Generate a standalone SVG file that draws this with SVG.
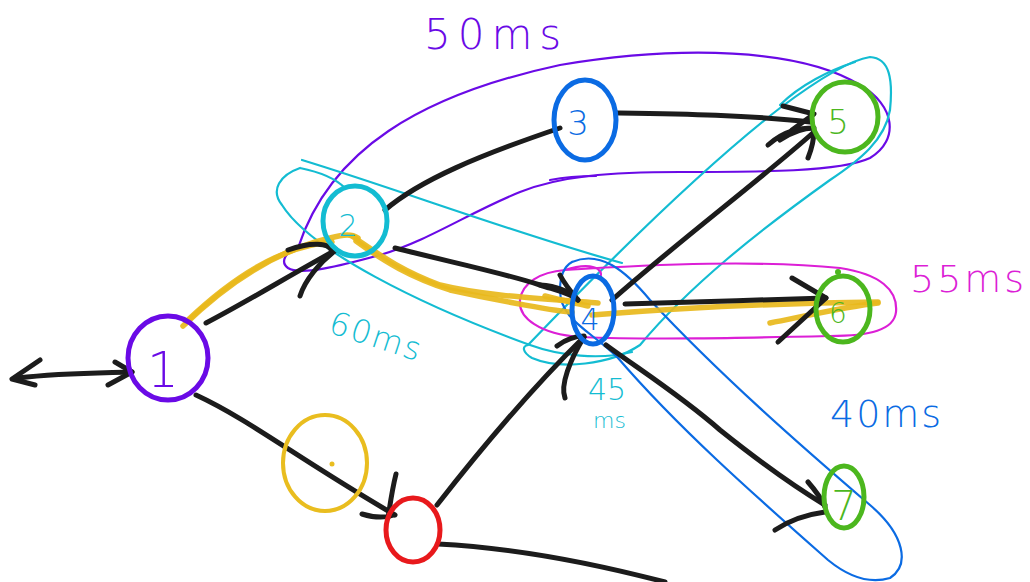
<svg xmlns="http://www.w3.org/2000/svg" width="1030" height="582" viewBox="0 0 1030 582">
  <style>
    .ink{fill:none;stroke:#1c1c1c;stroke-width:5;stroke-linecap:round;stroke-linejoin:round}
    .node{fill:none;stroke-width:5}
    .lasso{fill:none;stroke-width:2.2;stroke-linecap:round;stroke-linejoin:round}
    .hl{fill:none;stroke:#e8b81c;stroke-width:5.5;stroke-linecap:round;stroke-linejoin:round;opacity:.92}
    .lbl{font-family:"DejaVu Sans","Open Sans",sans-serif;font-weight:200}
    .purple{stroke:#6a0ae6}
    .cyan{stroke:#13bcd2}
    .blue{stroke:#0b6be3}
    .green{stroke:#4cb71e}
    .magenta{stroke:#dc1fd6}
  </style>
  <rect width="1030" height="582" fill="#ffffff"/>

  <!-- group outlines -->
  <g id="groups">
    <path class="lasso purple" d="M298,248 C330,150 420,95 560,65 C680,45 800,48 860,85 C895,105 900,140 870,158 C840,172 760,172 680,172 C610,172 560,176 520,192 C470,212 430,240 380,255 C340,266 300,276 288,268 C280,262 285,252 298,248"/>
    <path class="lasso purple" d="M550,180 C570,176 585,176 596,176"/>
    <path class="lasso cyan" d="M302,160 C400,190 520,235 622,263 M300,168 C280,175 270,190 282,205 C310,250 420,305 530,345 C560,356 600,360 632,352 M300,168 C320,172 335,178 345,188"/>
    <path class="lasso cyan" d="M528,345 C600,270 700,170 780,108 C820,78 850,60 870,57 C890,58 893,80 890,110 C885,140 860,160 830,180 C760,230 690,285 640,345 C610,365 560,370 532,358 C522,352 522,346 528,345"/>
    <path class="lasso cyan" d="M780,105 C800,85 830,70 855,62"/>
    <path class="lasso magenta" d="M565,270 C660,264 760,260 840,268 C880,274 898,290 896,312 C894,330 870,336 830,336 C740,338 650,340 580,337 C540,334 518,318 520,300 C522,283 540,272 565,270 M565,270 C590,262 605,268 600,278"/>
    <path class="lasso blue" d="M572,262 C600,250 625,270 650,300 C720,375 800,445 870,505 C905,535 910,565 890,578 C870,584 850,578 828,560 C760,500 680,430 618,358 C590,330 560,320 560,290 C560,275 565,266 572,262"/>
  </g>

  <!-- yellow trace -->
  <g id="trace">
    <path class="hl" d="M183,326 C220,290 270,252 330,238 C345,234 352,234 358,238"/>
    <path class="hl" d="M188,320 C228,282 278,246 332,242"/>
    <path class="hl" d="M352,236 C380,255 400,270 440,285 C480,295 530,298 598,303"/>
    <path class="hl" d="M356,241 C385,262 410,277 450,290 C500,301 560,312 572,312"/>
    <path class="hl" d="M592,315 C680,308 780,303 878,302"/>
    <path class="hl" d="M770,323 C810,315 850,306 878,303"/>
    <path class="hl" d="M545,296 C560,300 575,303 588,306"/>
  </g>

  <!-- connectors -->
  <g id="connectors">
    <path class="ink" d="M18,378 C60,373 100,373 132,372"/>
    <path class="ink" d="M40,360 L12,379 L35,385"/>
    <path class="ink" d="M115,362 L132,372 L108,385"/>

    <path class="ink" d="M206,323 C250,300 290,275 336,250"/>
    <path class="ink" d="M288,250 C310,242 330,242 332,252 M300,296 C305,280 320,262 336,250"/>

    <path class="ink" d="M385,210 C420,180 480,155 560,128"/>

    <path class="ink" d="M395,248 C450,262 500,272 540,285 C555,290 570,293 578,300"/>
    <path class="ink" d="M540,285 C555,286 568,290 578,300 M560,275 C565,285 572,293 578,300"/>

    <path class="ink" d="M616,113 C680,114 750,115 810,122"/>
    <path class="ink" d="M783,106 L814,114 L792,130"/>

    <path class="ink" d="M612,300 C680,240 760,180 814,132"/>
    <path class="ink" d="M768,145 C785,130 800,128 814,128 M808,158 C812,148 814,138 814,130 M780,140 C792,132 805,128 814,128"/>

    <path class="ink" d="M625,304 C690,302 760,300 826,298"/>
    <path class="ink" d="M792,278 L826,298 L778,342"/>

    <path class="ink" d="M606,345 C640,370 680,395 720,430 C770,470 800,490 825,505"/>
    <path class="ink" d="M808,482 C815,490 822,500 825,507 M775,530 C790,520 810,514 825,512"/>

    <path class="ink" d="M196,395 C250,420 300,460 395,515"/>
    <path class="ink" d="M396,474 C392,490 390,505 388,518 M362,514 C375,518 385,518 394,515"/>

    <path class="ink" d="M437,505 C480,450 530,390 584,337"/>
    <path class="ink" d="M557,346 C565,340 575,336 584,336 M565,398 C560,385 570,360 584,337"/>

    <path class="ink" d="M438,544 C520,548 600,565 665,582"/>
  </g>

  <!-- nodes -->
  <g id="node-1">
    <ellipse class="node purple" cx="168" cy="358" rx="40" ry="42"/>
    <text class="lbl" x="163" y="387" font-size="50" fill="#6a0ae6" text-anchor="middle">1</text>
  </g>
  <g id="node-2">
    <ellipse class="node cyan" cx="355" cy="221" rx="32" ry="35"/>
    <text class="lbl" x="348" y="236" font-size="30" fill="#13bcd2" text-anchor="middle">2</text>
  </g>
  <g id="node-3">
    <ellipse class="node blue" cx="585" cy="120" rx="31" ry="40"/>
    <text class="lbl" x="578" y="135" font-size="34" fill="#0b6be3" text-anchor="middle">3</text>
  </g>
  <g id="node-4">
    <ellipse class="node blue" cx="593" cy="310" rx="21" ry="34"/>
    <text class="lbl" x="590" y="330" font-size="30" fill="#0b6be3" text-anchor="middle">4</text>
  </g>
  <g id="node-5">
    <ellipse class="node green" cx="845" cy="117" rx="33" ry="35"/>
    <text class="lbl" x="838" y="134" font-size="34" fill="#4cb71e" text-anchor="middle">5</text>
  </g>
  <g id="node-6">
    <ellipse class="node green" cx="843" cy="309" rx="27" ry="33"/>
    <circle cx="838" cy="272" r="3" fill="#4cb71e"/>
    <text class="lbl" x="838" y="323" font-size="28" fill="#4cb71e" text-anchor="middle">6</text>
  </g>
  <g id="node-7">
    <ellipse class="node green" cx="844" cy="497" rx="20" ry="31"/>
    <text class="lbl" x="844" y="520" font-size="40" fill="#4cb71e" text-anchor="middle">7</text>
  </g>
  <g id="node-red">
    <ellipse class="node" stroke="#e8191c" cx="413" cy="530" rx="27" ry="32"/>
  </g>
  <g id="mark-yellow">
    <ellipse cx="325" cy="463" rx="42" ry="48" fill="none" stroke="#e9bd1f" stroke-width="4"/>
    <circle cx="332" cy="464" r="2.5" fill="#e9bd1f"/>
  </g>

  <!-- latency labels -->
  <g id="labels">
    <text class="lbl" x="424" y="49" font-size="42" fill="#6a0ae6" letter-spacing="7">50ms</text>
    <text class="lbl" x="910" y="292" font-size="38" fill="#dc1fd6" letter-spacing="3">55ms</text>
    <text class="lbl" x="830" y="427" font-size="38" fill="#0b6be3" letter-spacing="2">40ms</text>
    <text class="lbl" x="327" y="332" font-size="32" fill="#13bcd2" letter-spacing="2" transform="rotate(18 327 332)">60ms</text>
    <text class="lbl" x="588" y="400" font-size="30" fill="#13bcd2">45</text>
    <text class="lbl" x="593" y="428" font-size="22" fill="#13bcd2">ms</text>
  </g>
</svg>
